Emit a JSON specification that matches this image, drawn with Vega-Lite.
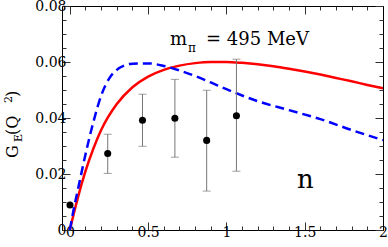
{
  "$schema": "https://vega.github.io/schema/vega-lite/v6.json",
  "width": 321,
  "height": 224,
  "autosize": {"type": "none"},
  "padding": {"left": 62, "top": 6, "right": 5, "bottom": 17},
  "config": {
    "view": {"stroke": null},
    "font": "DejaVu Serif",
    "axis": {"domainColor": "#000", "tickColor": "#333", "labelColor": "#000", "labelFont": "DejaVu Serif", "labelFontSize": 14, "grid": false, "domainWidth": 1, "tickWidth": 1},
    "text": {"font": "DejaVu Serif"}
  },
  "datasets": {
    "red": [
      {"x": 0, "y": 0}, {"x": 0.025, "y": 0.0058}, {"x": 0.05, "y": 0.0113}, {"x": 0.1, "y": 0.021}, {"x": 0.15, "y": 0.029}, {"x": 0.2, "y": 0.0357}, {"x": 0.3, "y": 0.045}, {"x": 0.4, "y": 0.051}, {"x": 0.5, "y": 0.0548}, {"x": 0.6, "y": 0.0572}, {"x": 0.7, "y": 0.0587}, {"x": 0.8, "y": 0.0596}, {"x": 0.9, "y": 0.06}, {"x": 1.0, "y": 0.06}, {"x": 1.1, "y": 0.0597}, {"x": 1.2, "y": 0.0592}, {"x": 1.3, "y": 0.0585}, {"x": 1.4, "y": 0.0576}, {"x": 1.5, "y": 0.0566}, {"x": 1.6, "y": 0.0555}, {"x": 1.7, "y": 0.0543}, {"x": 1.8, "y": 0.0531}, {"x": 1.9, "y": 0.0518}, {"x": 2.0, "y": 0.0506}
    ],
    "blue": [
      {"x": 0, "y": 0}, {"x": 0.025, "y": 0.0075}, {"x": 0.05, "y": 0.014}, {"x": 0.1, "y": 0.027}, {"x": 0.15, "y": 0.0385}, {"x": 0.2, "y": 0.048}, {"x": 0.25, "y": 0.054}, {"x": 0.3, "y": 0.0572}, {"x": 0.35, "y": 0.0588}, {"x": 0.4, "y": 0.0594}, {"x": 0.5, "y": 0.0595}, {"x": 0.6, "y": 0.0586}, {"x": 0.7, "y": 0.057}, {"x": 0.8, "y": 0.055}, {"x": 0.9, "y": 0.0527}, {"x": 1.0, "y": 0.0503}, {"x": 1.2, "y": 0.046}, {"x": 1.4, "y": 0.0428}, {"x": 1.6, "y": 0.0396}, {"x": 1.8, "y": 0.0357}, {"x": 2.0, "y": 0.0321}
    ],
    "pts": [
      {"x": 0.001, "y": 0.0089, "lo": null, "hi": null},
      {"x": 0.242, "y": 0.0273, "lo": 0.0202, "hi": 0.0342},
      {"x": 0.464, "y": 0.0392, "lo": 0.0299, "hi": 0.0485},
      {"x": 0.671, "y": 0.0399, "lo": 0.026, "hi": 0.0538},
      {"x": 0.874, "y": 0.032, "lo": 0.0139, "hi": 0.0499},
      {"x": 1.064, "y": 0.0408, "lo": 0.021, "hi": 0.061}
    ]
  },
  "layer": [
    {
      "data": {"name": "red"},
      "mark": {"type": "line", "color": "#ff0000", "strokeWidth": 2.5, "interpolate": "monotone", "clip": true},
      "encoding": {
        "x": {"field": "x", "type": "quantitative", "scale": {"domain": [-0.05, 2], "nice": false, "zero": false},
          "axis": {"orient": "bottom", "title": null, "values": [0, 0.5, 1, 1.5, 2], "tickSize": -8, "labelExpr": "toString(datum.value)", "labelPadding": 3, "labelFlush": false, "labelOverlap": false}},
        "y": {"field": "y", "type": "quantitative", "scale": {"domain": [0, 0.08], "nice": false, "zero": false},
          "axis": {"orient": "left", "title": null, "values": [0, 0.02, 0.04, 0.06, 0.08], "tickSize": -8, "labelExpr": "toString(datum.value)", "labelPadding": 4, "labelFlush": false, "labelOverlap": false}}
      }
    },
    {
      "data": {"name": "blue"},
      "mark": {"type": "line", "color": "#0000ff", "strokeWidth": 2.5, "strokeDash": [9, 5], "interpolate": "monotone", "clip": true},
      "encoding": {
        "x": {"field": "x", "type": "quantitative",
          "axis": {"orient": "bottom", "title": null, "values": [0.1, 0.2, 0.3, 0.4, 0.6, 0.7, 0.8, 0.9, 1.1, 1.2, 1.3, 1.4, 1.6, 1.7, 1.8, 1.9], "tickSize": -4, "labels": false, "domain": false}},
        "y": {"field": "y", "type": "quantitative",
          "axis": {"orient": "left", "title": null, "values": [0.005, 0.01, 0.015, 0.025, 0.03, 0.035, 0.045, 0.05, 0.055, 0.065, 0.07, 0.075], "tickSize": -4, "labels": false, "domain": false}}
      }
    },
    {
      "data": {"name": "pts"},
      "mark": {"type": "rule", "color": "#777777", "strokeWidth": 1},
      "encoding": {
        "x": {"field": "x", "type": "quantitative",
          "axis": {"orient": "top", "title": null, "values": [0, 0.5, 1, 1.5, 2], "tickSize": -8, "labels": false}},
        "y": {"field": "lo", "type": "quantitative",
          "axis": {"orient": "right", "title": null, "values": [0, 0.02, 0.04, 0.06, 0.08], "tickSize": -8, "labels": false}},
        "y2": {"field": "hi"}
      }
    },
    {
      "data": {"name": "pts"},
      "mark": {"type": "tick", "color": "#777777", "orient": "horizontal", "size": 8, "thickness": 1},
      "encoding": {
        "x": {"field": "x", "type": "quantitative",
          "axis": {"orient": "top", "title": null, "values": [0.1, 0.2, 0.3, 0.4, 0.6, 0.7, 0.8, 0.9, 1.1, 1.2, 1.3, 1.4, 1.6, 1.7, 1.8, 1.9], "tickSize": -4, "labels": false, "domain": false}},
        "y": {"field": "lo", "type": "quantitative",
          "axis": {"orient": "right", "title": null, "values": [0.005, 0.01, 0.015, 0.025, 0.03, 0.035, 0.045, 0.05, 0.055, 0.065, 0.07, 0.075], "tickSize": -4, "labels": false, "domain": false}}
      }
    },
    {
      "data": {"name": "pts"},
      "mark": {"type": "tick", "color": "#777777", "orient": "horizontal", "size": 8, "thickness": 1},
      "encoding": {
        "x": {"field": "x", "type": "quantitative", "axis": null},
        "y": {"field": "hi", "type": "quantitative", "axis": null}
      }
    },
    {
      "data": {"name": "pts"},
      "mark": {"type": "point", "filled": true, "color": "#000000", "size": 50, "opacity": 1},
      "encoding": {
        "x": {"field": "x", "type": "quantitative", "axis": null},
        "y": {"field": "y", "type": "quantitative", "axis": null}
      }
    },
    {
      "data": {"values": [{"t": "m", "x": 0.64, "y": 0.0661}, {"t": "= 495 MeV", "x": 0.87, "y": 0.0661}]},
      "mark": {"type": "text", "align": "left", "baseline": "alphabetic", "fontSize": 18, "color": "#000"},
      "encoding": {
        "x": {"field": "x", "type": "quantitative", "axis": null},
        "y": {"field": "y", "type": "quantitative", "axis": null},
        "text": {"field": "t"}
      }
    },
    {
      "data": {"values": [{"t": "π", "x": 0.755, "y": 0.0636}]},
      "mark": {"type": "text", "align": "left", "baseline": "alphabetic", "fontSize": 12, "color": "#000"},
      "encoding": {
        "x": {"field": "x", "type": "quantitative", "axis": null},
        "y": {"field": "y", "type": "quantitative", "axis": null},
        "text": {"field": "t"}
      }
    },
    {
      "data": {"values": [{"t": "n", "x": 1.45, "y": 0.015}]},
      "mark": {"type": "text", "align": "left", "baseline": "alphabetic", "fontSize": 26, "color": "#000"},
      "encoding": {
        "x": {"field": "x", "type": "quantitative", "axis": null},
        "y": {"field": "y", "type": "quantitative", "axis": null},
        "text": {"field": "t"}
      }
    },
    {
      "data": {"values": [{"t": "G", "x": -0.331, "y": 0.0257}, {"t": "(Q", "x": -0.331, "y": 0.0339}, {"t": ")", "x": -0.331, "y": 0.0475}]},
      "mark": {"type": "text", "align": "left", "baseline": "alphabetic", "angle": 270, "fontSize": 16, "color": "#000"},
      "encoding": {
        "x": {"field": "x", "type": "quantitative", "axis": null},
        "y": {"field": "y", "type": "quantitative", "axis": null},
        "text": {"field": "t"}
      }
    },
    {
      "data": {"values": [{"t": "E", "x": -0.305, "y": 0.0314}, {"t": "2", "x": -0.37, "y": 0.0454}]},
      "mark": {"type": "text", "align": "left", "baseline": "alphabetic", "angle": 270, "fontSize": 11, "color": "#000"},
      "encoding": {
        "x": {"field": "x", "type": "quantitative", "axis": null},
        "y": {"field": "y", "type": "quantitative", "axis": null},
        "text": {"field": "t"}
      }
    }
  ],
  "resolve": {"axis": {"x": "independent", "y": "independent"}}
}
